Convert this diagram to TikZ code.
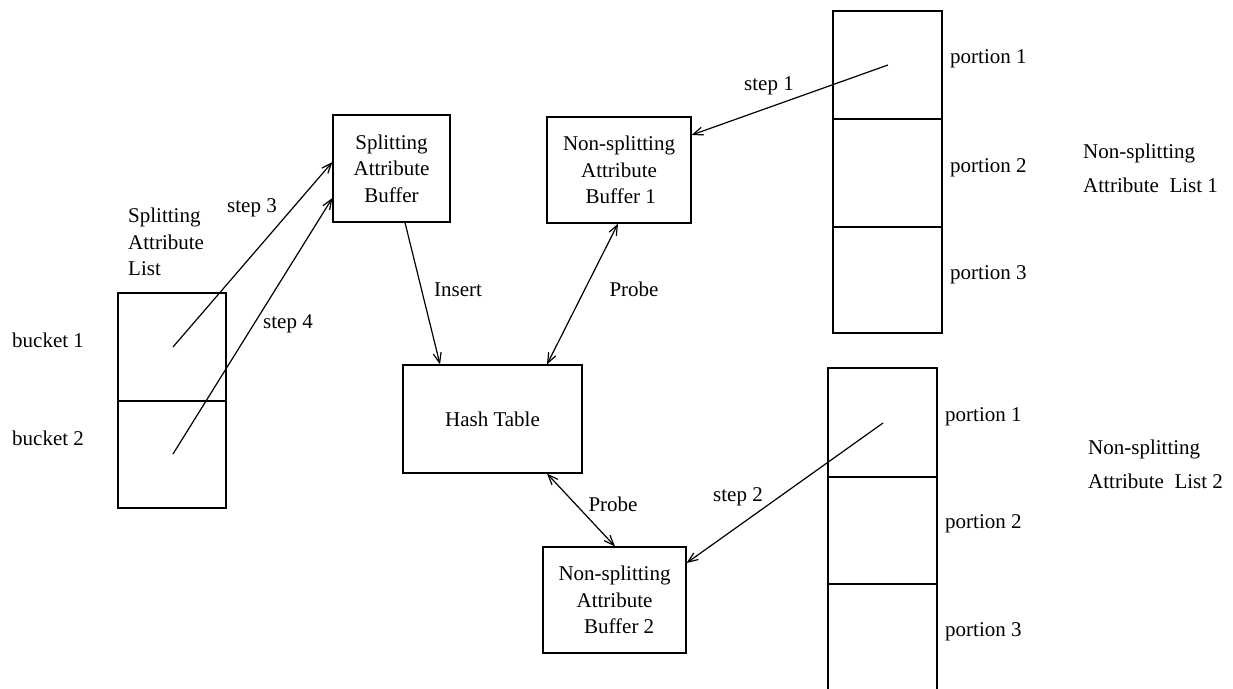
\documentclass[tikz,border=0pt]{standalone}
\usepackage{fontspec}
\setmainfont{Liberation Serif}
\usetikzlibrary{arrows.meta,calc}
\begin{document}
\begin{tikzpicture}[x=1pt,y=-1pt,
  every node/.style={font=\fontsize{21}{26.5}\selectfont, inner sep=0pt},
  box/.style={draw, line width=1.2pt, align=center},
  lbl/.style={anchor=center},
  llbl/.style={anchor=west, align=left},
  conn/.style={line width=1.2pt, -{Straight Barb[length=10pt,width=8pt]}},
  dconn/.style={line width=1.2pt, {Straight Barb[length=10pt,width=8pt]}-{Straight Barb[length=10pt,width=8pt]}},
  cell/.style={line width=1.2pt}]
\useasboundingbox (0,0) rectangle (1233,688);
\fill[white] (0,0) rectangle (1233,688);

% boxes
\node[box, minimum width=117pt, minimum height=107pt] (sab) at (391.5,168.5) {Splitting\\Attribute\\Buffer};
\node[box, minimum width=144pt, minimum height=106pt] (b1) at (619,170) {Non-splitting\\Attribute\\\,Buffer 1};
\node[box, minimum width=179pt, minimum height=108pt] (ht) at (492.5,419) {Hash Table};
\node[box, minimum width=143pt, minimum height=106pt] (b2) at (614.5,600) {Non-splitting\\Attribute\\\;\,Buffer 2};

% bucket list
\draw[cell] (118,293) rectangle (226,508);
\draw[cell] (118,401) -- (226,401);
\node[llbl] (bk1) at (12,340) {bucket 1};
\node[llbl] (bk2) at (12,438) {bucket 2};
\node[llbl] (sal) at (128,242) {Splitting\\Attribute\\List};

% list 1
\draw[cell] (833,11) rectangle (942,333);
\draw[cell] (833,119) -- (942,119);
\draw[cell] (833,227) -- (942,227);
\node[llbl] (p11) at (950,59) {portion 1};
\node[llbl] (p12) at (950,168) {portion 2};
\node[llbl] (p13) at (950,275) {portion 3};
\node[llbl] (nl1) at (1083,168.5) {Non-splitting\\[8pt]Attribute\ \ List 1};

% list 2
\begin{scope}
\clip (0,0) rectangle (1233,688);
\draw[cell] (828,695) -- (828,368) -- (937,368) -- (937,695);
\draw[cell] (828,477) -- (937,477);
\draw[cell] (828,584) -- (937,584);
\end{scope}
\node[llbl] (p21) at (945,417) {portion 1};
\node[llbl] (p22) at (945,524) {portion 2};
\node[llbl] (p23) at (945,632) {portion 3};
\node[llbl] (nl2) at (1088,464.5) {Non-splitting\\[8pt]Attribute\ \ List 2};

% start points
\coordinate (s1) at (888,65);
\coordinate (s2) at (883,423);
\coordinate (s3) at (173,347);
\coordinate (s4) at (173,454);

% connectors
\draw[conn] (s1) -- ([yshift=35pt]b1.east);
\draw[conn] (s2) -- ([yshift=37pt]b2.east);
\draw[conn] (s3) -- ([yshift=6.5pt]sab.west);
\draw[conn] (s4) -- ([yshift=-29.5pt]sab.west);
\draw[conn] ([xshift=13.5pt]sab.south) -- ([xshift=-52.5pt]ht.north);
\draw[dconn] ([xshift=-1pt]b1.south) -- ([xshift=54.5pt]ht.north);
\draw[dconn] ([xshift=54.5pt]ht.south) -- ([xshift=0.5pt]b2.north);

% labels
\node[lbl] (l1) at (769,86) {step 1};
\node[lbl] (l2) at (738,497) {step 2};
\node[lbl] (l3) at (252,208) {step 3};
\node[lbl] (l4) at (288,324) {step 4};
\node[lbl] (li) at (458,290) {Insert};
\node[lbl] (lp1) at (634,289) {Probe};
\node[lbl] (lp2) at (613,504) {Probe};
\end{tikzpicture}
\end{document}
